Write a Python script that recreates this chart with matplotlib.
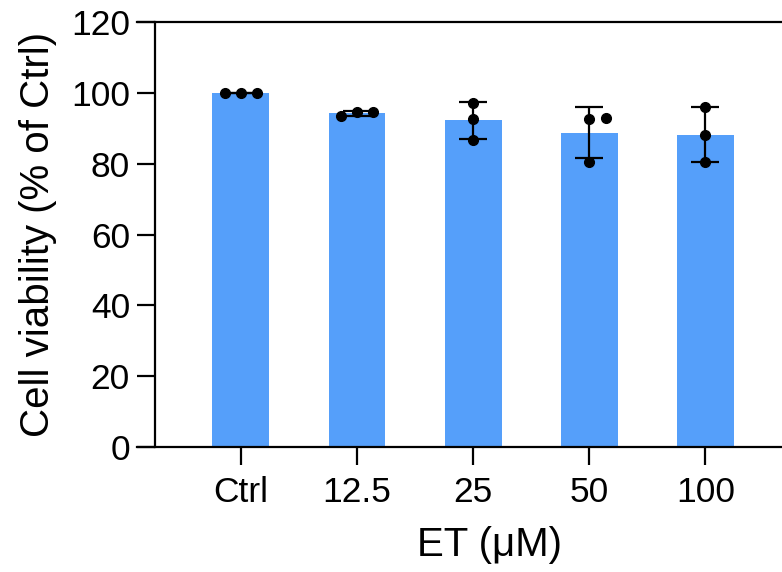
import matplotlib.pyplot as plt
import numpy as np

plt.rcParams['font.family'] = ['Liberation Sans', 'DejaVu Sans']

# Data
groups = ['Ctrl', '12.5', '25', '50', '100']
replicates = [
    [100.0, 100.0, 100.0],
    [93.5, 94.6, 94.6],
    [97.2, 92.7, 86.7],
    [92.7, 93.0, 80.5],
    [96.0, 88.1, 80.5],
]
# horizontal scatter of the replicate dots (x units)
jitter = [
    [-0.14, 0.0, 0.14],
    [-0.14, 0.0, 0.14],
    [0.0, 0.0, 0.0],
    [0.0, 0.14, 0.0],
    [0.0, 0.0, 0.0],
]

means = [np.mean(r) for r in replicates]
sds = [np.std(r, ddof=1) for r in replicates]
x = np.arange(len(groups))

fig = plt.figure(figsize=(7.82, 5.72), dpi=100)
# the plot area runs a little past the right edge of the picture
ax = fig.add_axes([155 / 782, 1 - 447 / 572, 670 / 782, 425 / 572])

ax.bar(x, means, width=0.49, color='#559FFA', zorder=1)
ax.errorbar(x, means, yerr=sds, fmt='none', ecolor='black', elinewidth=1.6,
            capsize=10, capthick=1.6, zorder=2)
for xi, reps, offs in zip(x, replicates, jitter):
    ax.plot([xi + o for o in offs], reps, 'o', color='black', markersize=7,
            zorder=3, clip_on=False)

ax.set_xlim(-0.74, 5.03)
ax.set_ylim(0, 120)
ax.set_yticks(range(0, 121, 20))
ax.set_xticks(x)
ax.set_xticklabels(groups)

# axis frame: left spine, plus bottom and top lines reaching the tick ends
for s in ['top', 'bottom', 'right']:
    ax.spines[s].set_visible(False)
ax.spines['left'].set_linewidth(1.6)
ext = 18 / 670
for yy in (0, 1):
    ax.plot([-ext, 1], [yy, yy], color='black', lw=1.6,
            transform=ax.transAxes, clip_on=False, zorder=4)

ax.tick_params(axis='both', width=1.6, length=13, labelsize=25.5, colors='black')
ax.tick_params(axis='y', pad=5)
ax.tick_params(axis='x', pad=8)

ax.set_xlabel('ET (μM)', fontsize=29, labelpad=12)
ax.set_ylabel('Cell viability (% of Ctrl)', fontsize=29, labelpad=10)

fig.savefig('out.png', dpi=100)
